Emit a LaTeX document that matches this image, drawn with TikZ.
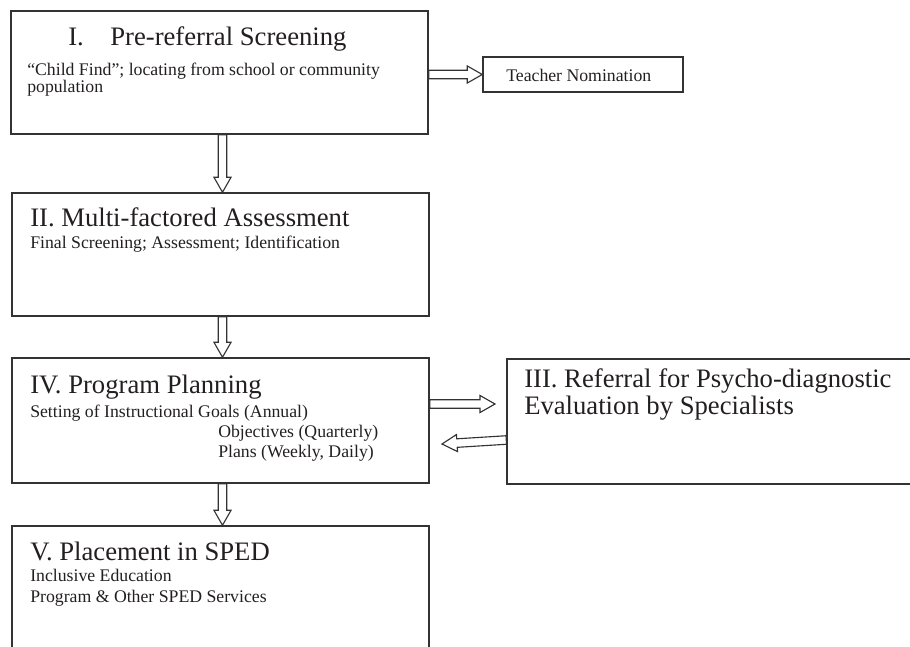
\documentclass[tikz,border=0pt]{standalone}
\usepackage{fontspec}
\setmainfont{Liberation Serif}
\usetikzlibrary{calc,fit}
\definecolor{ink}{HTML}{231F20}
\definecolor{rule}{HTML}{333333}
\tikzset{
  box/.style={draw=rule, line width=1.1pt, inner sep=0pt, fill=none},
  blk/.style={draw=rule, line width=0.85pt, fill=white, line join=miter},
  ttl/.style={anchor=base west, inner sep=0pt, text=ink, font=\fontsize{20}{24}\selectfont},
  bdy/.style={anchor=base west, inner sep=0pt, text=ink, font=\fontsize{13.3}{16}\selectfont},
}
\newcommand\blockarrow[2]{%
  \coordinate (hb) at ($(#2)!11.25pt!(#1)$);
  \draw[blk] ($(#1)!3.2pt!90:(#2)$) -- ($(hb)!3.2pt!90:(#2)$) -- ($(hb)!6.4pt!90:(#2)$) -- (#2)
    -- ($(hb)!6.4pt!-90:(#2)$) -- ($(hb)!3.2pt!-90:(#2)$) -- ($(#1)!3.2pt!-90:(#2)$) -- cycle;
}
\begin{document}
\begin{tikzpicture}[x=0.75pt,y=-0.75pt]
\useasboundingbox (0,0) rectangle (910,646);
\clip (0,0) rectangle (910,646);
% boxes
\node[box, fit={(11,11) (428,134)}] (I) {};
\node[box, fit={(483,57) (683,92)}] (TN) {};
\node[box, fit={(12,193) (429,316)}] (II) {};
\node[box, fit={(12,358) (429,483)}] (IV) {};
\node[box, fit={(507,359) (940,484)}] (III) {};
\node[box, fit={(12,526) (429,700)}] (V) {};
% texts
\node[ttl] (tI) at (68,45) {I.\hspace{19.9pt}Pre-referral Screening};
\node[bdy] (bI1) at (27,75) {“Child Find”; locating from school or community};
\node[bdy] (bI2) at (27,92) {population};
\node[bdy] (tTN) at (506,81) {Teacher Nomination};
\node[ttl] (tII) at (30,226) {II. Multi-factored Assessment};
\node[bdy] (bII) at (30,248.5) {Final Screening; Assessment; Identification};
\node[ttl] (tIV) at (30,393) {IV. Program Planning};
\node[bdy] (bIV1) at (30,417) {Setting of Instructional Goals (Annual)};
\node[bdy] (bIV2) at (218,437) {Objectives (Quarterly)};
\node[bdy] (bIV3) at (218,457) {Plans (Weekly, Daily)};
\node[ttl] (tIII1) at (524,387) {III. Referral for Psycho-diagnostic};
\node[ttl] (tIII2) at (524,414) {Evaluation by Specialists};
\node[ttl] (tV) at (30,560) {V. Placement in SPED};
\node[bdy] (bV1) at (30,581.5) {Inclusive Education};
\node[bdy] (bV2) at (30,602) {Program \& Other SPED Services};
% arrow anchors
\coordinate (ax) at (222.5,0);
\coordinate (a1s) at (I.south -| ax);
\coordinate (a1e) at (II.north -| ax);
\coordinate (a2s) at (II.south -| ax);
\coordinate (a2e) at (IV.north -| ax);
\coordinate (a3s) at (IV.south -| ax);
\coordinate (a3e) at (V.north -| ax);
\coordinate (a4s) at (I.east |- TN.west);
\coordinate (a4e) at (TN.west);
\coordinate (r1) at (0,404);
\coordinate (a5s) at (IV.east |- r1);
\coordinate (a5e) at (495,404);
\coordinate (a6s) at ($(III.west |- r1)+(0,36)$);
\coordinate (a6e) at (442,444);
\blockarrow{a1s}{a1e}
\blockarrow{a2s}{a2e}
\blockarrow{a3s}{a3e}
\blockarrow{a4s}{a4e}
\blockarrow{a5s}{a5e}
\blockarrow{a6s}{a6e}
\end{tikzpicture}
\end{document}
